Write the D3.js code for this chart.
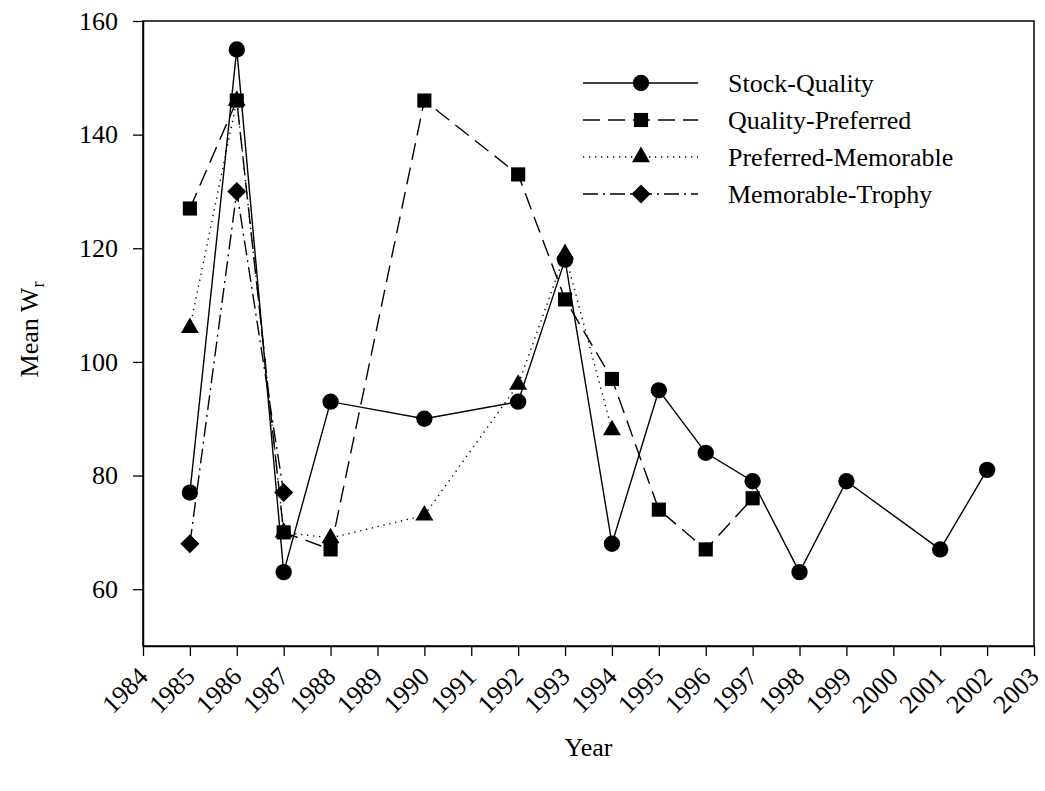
<!DOCTYPE html>
<html>
<head>
<meta charset="utf-8">
<script src="https://cdn.jsdelivr.net/npm/d3@7"></script>
<style>
  html, body { margin: 0; padding: 0; background: #fff; }
  svg { display: block; font-family: "Liberation Serif", "Times New Roman", serif; }
</style>
</head>
<body>
<svg id="chart" width="1045" height="791"></svg>
<script>
// Tick labels along the year axis
const yearTicks = [1984, 1985, 1986, 1987, 1988, 1989, 1990, 1991, 1992, 1993,
                   1994, 1995, 1996, 1997, 1998, 1999, 2000, 2001, 2002, 2003];
const wrTicks = [60, 80, 100, 120, 140, 160];

// Mean relative weight by length-category pair
const stockQualityYears = [1985, 1986, 1987, 1988, 1990, 1992, 1993, 1994, 1995, 1996, 1997, 1998, 1999, 2001, 2002];
const stockQuality      = [77, 155, 63, 93, 90, 93, 118, 68, 95, 84, 79, 63, 79, 67, 81];

const qualityPreferredYears = [1985, 1986, 1987, 1988, 1990, 1992, 1993, 1994, 1995, 1996, 1997];
const qualityPreferred      = [127, 146, 70, 67, 146, 133, 111, 97, 74, 67, 76];

const preferredMemorableYears = [1985, 1986, 1987, 1988, 1990, 1992, 1993, 1994];
const preferredMemorable      = [106, 146, 70, 69, 73, 96, 119, 88];

const memorableTrophyYears = [1985, 1986, 1987];
const memorableTrophy      = [68, 130, 77];

const seriesNames = ["Stock-Quality", "Quality-Preferred", "Preferred-Memorable", "Memorable-Trophy"];

const FONT = "'Liberation Serif', 'Times New Roman', serif";

// Marker shapes; the diamond is a square turned by 45 degrees
const series = [
  { name: seriesNames[0], years: stockQualityYears, values: stockQuality,
    dash: null, symbol: d3.symbolCircle, size: 210, rot: 0 },
  { name: seriesNames[1], years: qualityPreferredYears, values: qualityPreferred,
    dash: "17,8", symbol: d3.symbolSquare, size: 200, rot: 0 },
  { name: seriesNames[2], years: preferredMemorableYears, values: preferredMemorable,
    dash: "1.3,4.7", symbol: d3.symbolTriangle, size: 140, rot: 0 },
  { name: seriesNames[3], years: memorableTrophyYears, values: memorableTrophy,
    dash: "15,5,2,5", symbol: d3.symbolSquare, size: 180, rot: 45 }
];

const svg = d3.select("#chart");
const margin = { left: 143, right: 1034, top: 21, bottom: 646 };

const x = d3.scaleLinear().domain([1984, 2003]).range([margin.left, margin.right]);
const y = d3.scaleLinear().domain([50, 160]).range([margin.bottom, margin.top]);

// Frame
svg.append("rect")
  .attr("x", margin.left).attr("y", margin.top)
  .attr("width", margin.right - margin.left).attr("height", margin.bottom - margin.top)
  .attr("fill", "none").attr("stroke", "#000").attr("stroke-width", 1.5);

// X axis
const xAxis = svg.append("g")
  .attr("transform", `translate(0,${margin.bottom})`)
  .call(d3.axisBottom(x).tickValues(yearTicks).tickFormat(d3.format("d"))
        .tickSize(10).tickSizeOuter(0));
xAxis.attr("font-family", FONT);
xAxis.select(".domain").attr("stroke-width", 1.5);
xAxis.selectAll(".tick line").attr("stroke-width", 1.3);
xAxis.selectAll(".tick text")
  .attr("font-size", 26)
  .attr("fill", "#000")
  .attr("text-anchor", "end")
  .attr("dy", null)
  .attr("y", null)
  .attr("transform", "translate(6,32) rotate(-45)");

// Y axis
const yAxis = svg.append("g")
  .attr("transform", `translate(${margin.left},0)`)
  .call(d3.axisLeft(y).tickValues(wrTicks).tickSize(10).tickSizeOuter(0).tickPadding(15));
yAxis.attr("font-family", FONT);
yAxis.select(".domain").attr("stroke-width", 1.5);
yAxis.selectAll(".tick line").attr("stroke-width", 1.3);
yAxis.selectAll(".tick text").attr("font-size", 26).attr("fill", "#000");

// Axis titles
svg.append("text")
  .attr("x", (margin.left + margin.right) / 2).attr("y", 756)
  .attr("text-anchor", "middle").attr("font-size", 26)
  .text("Year");

const yTitle = svg.append("text")
  .attr("transform", `translate(38,${(margin.top + margin.bottom) / 2 - 4}) rotate(-90)`)
  .attr("text-anchor", "middle").attr("font-size", 26);
yTitle.append("tspan").text("Mean W");
yTitle.append("tspan").attr("font-size", 18).attr("dy", 6).text("r");

// Series lines and markers
const plot = svg.append("g");
series.forEach(s => {
  const pts = s.years.map((yr, i) => [yr, s.values[i]]);
  plot.append("path")
    .datum(pts)
    .attr("fill", "none")
    .attr("stroke", "#000")
    .attr("stroke-width", 1.4)
    .attr("stroke-dasharray", s.dash)
    .attr("d", d3.line().x(d => x(d[0])).y(d => y(d[1])));
});
series.forEach(s => {
  const pts = s.years.map((yr, i) => [yr, s.values[i]]);
  plot.selectAll(null)
    .data(pts)
    .join("path")
    .attr("transform", d => `translate(${x(d[0])},${y(d[1])}) rotate(${s.rot})`)
    .attr("d", d3.symbol().type(s.symbol).size(s.size))
    .attr("fill", "#000");
});

// Legend
const legend = svg.append("g");
const legendRows = [83, 120, 157, 194];
series.forEach((s, i) => {
  const row = legend.append("g").attr("transform", `translate(0,${legendRows[i]})`);
  row.append("line")
    .attr("x1", 583).attr("x2", 698).attr("y1", 0).attr("y2", 0)
    .attr("stroke", "#000").attr("stroke-width", 1.4)
    .attr("stroke-dasharray", s.dash);
  row.append("path")
    .attr("transform", `translate(641,0) rotate(${s.rot})`)
    .attr("d", d3.symbol().type(s.symbol).size(s.size))
    .attr("fill", "#000");
  row.append("text")
    .attr("x", 728).attr("y", 0).attr("dy", "0.35em")
    .attr("font-size", 26)
    .text(s.name);
});
</script>
</body>
</html>
